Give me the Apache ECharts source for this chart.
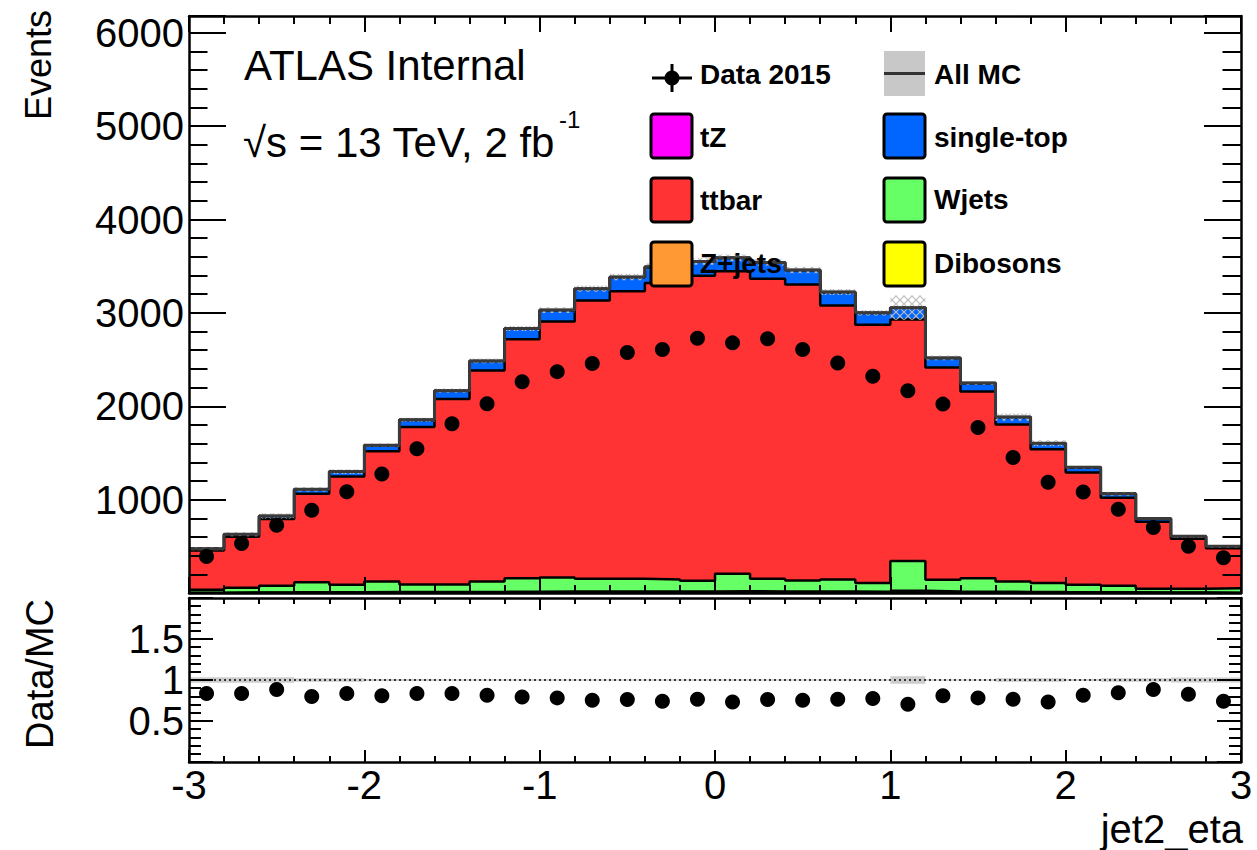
<!DOCTYPE html>
<html lang="en">
<head>
<meta charset="UTF-8">
<title>jet2_eta</title>
<style>
    html, body { margin: 0; padding: 0; background: #fff; }
    #chart { width: 1257px; height: 850px; }
</style>
</head>
<body>
<div id="chart"></div>
<script src="https://cdn.jsdelivr.net/npm/echarts@6/dist/echarts.min.js"></script>
<script>
// bin edges / centres of jet2_eta (30 bins, width 0.2)
var binEdges = [-3, -2.8, -2.6, -2.4, -2.2, -2, -1.8, -1.6, -1.4, -1.2, -1, -0.8, -0.6, -0.4, -0.2, 0,
    0.2, 0.4, 0.6, 0.8, 1, 1.2, 1.4, 1.6, 1.8, 2, 2.2, 2.4, 2.6, 2.8, 3];
var binCenters = [-2.9, -2.7, -2.5, -2.3, -2.1, -1.9, -1.7, -1.5, -1.3, -1.1, -0.9, -0.7, -0.5, -0.3, -0.1,
    0.1, 0.3, 0.5, 0.7, 0.9, 1.1, 1.3, 1.5, 1.7, 1.9, 2.1, 2.3, 2.5, 2.7, 2.9];

// MC stack, bottom to top
var dibosons = [1, 2, 2, 3, 3, 3, 4, 4, 4, 5, 5, 5, 5, 5, 5, 5, 5, 5, 5, 5, 5, 4, 4, 4, 3, 3, 3, 2, 2, 1];
var zjets = [3, 4, 5, 6, 6, 7, 7, 8, 8, 9, 10, 10, 10, 10, 10, 15, 12, 10, 10, 9, 18, 12, 9, 8, 7, 6, 5, 4, 4, 3];
var wjets = [30, 50, 70, 107, 79, 114, 80, 79, 112, 145, 152, 137, 137, 130, 116, 186, 135, 119, 130, 92,
    319, 126, 146, 112, 96, 79, 69, 39, 39, 48];
var ttbar = [422, 547, 716, 948, 1159, 1395, 1687, 1986, 2260, 2560, 2741, 2981, 3080, 3175, 3267, 3241,
    3213, 3169, 2934, 2768, 2587, 2274, 1998, 1682, 1433, 1203, 943, 719, 537, 427];
var singleTop = [18, 25, 32, 45, 52, 62, 75, 88, 100, 112, 120, 125, 150, 170, 150, 140, 172, 154, 143, 126,
    125, 100, 90, 76, 64, 54, 42, 32, 24, 20];
var tZ = [1, 1, 1, 1, 1, 2, 2, 2, 2, 2, 2, 2, 3, 3, 3, 3, 3, 3, 2, 2, 2, 2, 2, 2, 1, 1, 1, 1, 1, 1];

var mcTotal = [475, 629, 826, 1110, 1300, 1583, 1855, 2167, 2486, 2833, 3030, 3260, 3385, 3493, 3551, 3590,
    3540, 3460, 3224, 3002, 3056, 2518, 2249, 1884, 1604, 1346, 1063, 797, 607, 500];
var mcErr = [17, 22, 29, 22, 26, 19, 22, 22, 25, 28, 30, 33, 34, 35, 36, 36, 35, 35, 32, 30, 130, 25, 22, 38,
    32, 16, 21, 16, 18, 15];
var data2015 = [392, 529, 726, 887, 1084, 1274, 1546, 1812, 2027, 2263, 2371, 2457, 2575, 2608, 2729, 2679,
    2722, 2608, 2464, 2321, 2167, 2023, 1772, 1450, 1185, 1081, 898, 701, 500, 378];

// lower panel
var ratio = [0.836, 0.836, 0.885, 0.80, 0.836, 0.807, 0.836, 0.836, 0.815, 0.794, 0.782, 0.753, 0.761, 0.741,
    0.765, 0.733, 0.761, 0.753, 0.765, 0.774, 0.704, 0.807, 0.782, 0.765, 0.733, 0.815, 0.844, 0.885, 0.827, 0.741];
var ratioErr = [0.035, 0.035, 0.035, 0.02, 0.02, 0.012, 0.012, 0.01, 0.01, 0.01, 0.01, 0.01, 0.01, 0.01, 0.01,
    0.01, 0.01, 0.01, 0.01, 0.01, 0.045, 0.01, 0.01, 0.02, 0.02, 0.012, 0.02, 0.02, 0.03, 0.03];

var FONT = '"Liberation Sans", Arial, Helvetica, sans-serif';

// hatch pattern for the MC uncertainty
var hc = document.createElement('canvas');
hc.width = 8; hc.height = 8;
var hctx = hc.getContext('2d');
hctx.strokeStyle = '#bdbdbd';
hctx.lineWidth = 1.2;
hctx.beginPath();
hctx.moveTo(0, 0); hctx.lineTo(8, 8);
hctx.moveTo(8, 0); hctx.lineTo(0, 8);
hctx.stroke();
var hatch = {image: hc.toDataURL(), repeat: 'repeat'};

function stepData(vals) {
    var d = [];
    for (var i = 0; i < vals.length; i++) d.push([binEdges[i], vals[i]]);
    d.push([binEdges[vals.length], vals[vals.length - 1]]);
    return d;
}

// running sum of the stack (each layer is drawn from 0 up to its cumulative top)
var layers = [
    {name: 'Dibosons', vals: dibosons, color: '#ffff00'},
    {name: 'Z+jets', vals: zjets, color: '#ff9933'},
    {name: 'Wjets', vals: wjets, color: '#66ff66'},
    {name: 'ttbar', vals: ttbar, color: '#ff3333'},
    {name: 'single-top', vals: singleTop, color: '#0066ff'},
    {name: 'tZ', vals: tZ, color: '#ff00ff'}
];
var running = binCenters.map(function () { return 0; });
var stackSeries = [];
layers.forEach(function (l, k) {
    running = running.map(function (s, i) { return s + l.vals[i]; });
    stackSeries.push({
        name: l.name, type: 'line', xAxisIndex: 0, yAxisIndex: 0,
        step: 'end', symbol: 'none', silent: true,
        data: stepData(running),
        lineStyle: {color: '#000', width: 2.5},
        areaStyle: {color: l.color, opacity: 1},
        z: 8 - k
    });
});

function bandItem(params, api) {
    var p1 = api.coord([api.value(0), api.value(2) + api.value(3)]);
    var p2 = api.coord([api.value(1), api.value(2) - api.value(3)]);
    return {
        type: 'rect',
        shape: {x: p1[0], y: p1[1], width: p2[0] - p1[0], height: p2[1] - p1[1]},
        style: api.style()
    };
}

function xAx(grid, pos, labels, len) {
    return {
        type: 'value', gridIndex: grid, position: pos, min: -3, max: 3, interval: 1, z: 10,
        axisLine: {onZero: false, lineStyle: {color: '#000', width: 2.5}},
        axisTick: {inside: true, length: len, lineStyle: {color: '#000', width: 2}},
        minorTick: {show: true, splitNumber: 5, length: len / 2, lineStyle: {color: '#000', width: 2}},
        splitLine: {show: false},
        axisLabel: {show: labels, color: '#000', fontSize: 40, lineHeight: 34, fontFamily: FONT, margin: 6}
    };
}

function yAx(grid, pos, labels, min, max, step, len) {
    return {
        type: 'value', gridIndex: grid, position: pos, min: min, max: max, interval: step, z: 10,
        axisLine: {onZero: false, lineStyle: {color: '#000', width: 2.5}},
        axisTick: {inside: true, length: len, lineStyle: {color: '#000', width: 2}},
        minorTick: {show: true, splitNumber: 5, length: len / 2, lineStyle: {color: '#000', width: 2}},
        splitLine: {show: false},
        axisLabel: {
            show: labels, color: '#000', fontSize: 40, fontFamily: FONT, margin: 5,
            showMinLabel: false, showMaxLabel: false,
            formatter: function (v) { return String(v); }
        }
    };
}

var bandData = [], ratioBand = [], dataPts = [], ratioPts = [];
for (var i = 0; i < binCenters.length; i++) {
    bandData.push([binEdges[i], binEdges[i + 1], mcTotal[i], mcErr[i]]);
    ratioBand.push([binEdges[i], binEdges[i + 1], 1, ratioErr[i]]);
    dataPts.push([binCenters[i], data2015[i]]);
    ratioPts.push([binCenters[i], ratio[i]]);
}

// legend drawn by hand, ROOT style
function legBox(x, y, color) {
    return {type: 'rect', z: 100, shape: {x: x, y: y, width: 41, height: 44, r: 3},
        style: {fill: color, stroke: '#000', lineWidth: 3}};
}
function legText(x, y, t) {
    return {type: 'text', z: 100, style: {x: x, y: y, text: t, fill: '#000',
        font: 'bold 28px ' + FONT, textAlign: 'left', textVerticalAlign: 'middle'}};
}

var chart = echarts.init(document.getElementById('chart'), null, {renderer: 'svg'});
chart.setOption({
    animation: false,
    backgroundColor: '#fff',
    grid: [
        {left: 189, right: 16, top: 16, height: 577},
        {left: 189, right: 16, top: 598, height: 164}
    ],
    xAxis: [
        xAx(0, 'bottom', false, 16), xAx(0, 'top', false, 16),
        xAx(1, 'bottom', true, 12), xAx(1, 'top', false, 12)
    ],
    yAxis: [
        yAx(0, 'left', true, 0, 6180, 1000, 37), yAx(0, 'right', false, 0, 6180, 1000, 37),
        yAx(1, 'left', true, 0, 2, 0.5, 24), yAx(1, 'right', false, 0, 2, 0.5, 24)
    ],
    series: stackSeries.concat([
        {
            name: 'MC unc', type: 'custom', xAxisIndex: 0, yAxisIndex: 0, silent: true, z: 9,
            itemStyle: {color: hatch},
            renderItem: bandItem, data: bandData
        },
        {
            name: 'All MC', type: 'line', xAxisIndex: 0, yAxisIndex: 0, step: 'end', symbol: 'none',
            silent: true, z: 9, data: stepData(mcTotal),
            lineStyle: {color: '#3a3a3a', width: 3}
        },
        {
            name: 'Data 2015', type: 'scatter', xAxisIndex: 0, yAxisIndex: 0, z: 12, silent: true,
            symbolSize: 15, itemStyle: {color: '#000', opacity: 1}, data: dataPts
        },
        {
            name: 'ratio unc', type: 'custom', xAxisIndex: 2, yAxisIndex: 2, silent: true, z: 3,
            itemStyle: {color: '#cccccc'},
            renderItem: bandItem, data: ratioBand
        },
        {
            name: 'unity', type: 'line', xAxisIndex: 2, yAxisIndex: 2, symbol: 'none', silent: true, z: 4,
            data: [[-3, 1], [3, 1]],
            lineStyle: {color: '#000', width: 1.5, type: [2, 3]}
        },
        {
            name: 'Data/MC', type: 'scatter', xAxisIndex: 2, yAxisIndex: 2, z: 12, silent: true,
            symbolSize: 15, itemStyle: {color: '#000', opacity: 1}, data: ratioPts
        }
    ]),
    graphic: [
        {type: 'text', z: 100, style: {x: 244, y: 65, text: 'ATLAS Internal', fill: '#000',
            font: '42px ' + FONT, textVerticalAlign: 'middle'}},
        {type: 'text', z: 100, style: {x: 243, y: 142, text: '\u221As = 13 TeV, 2 fb', fill: '#000',
            font: '42px ' + FONT, textVerticalAlign: 'middle'}},
        {type: 'text', z: 100, style: {x: 559, y: 119, text: '-1', fill: '#000',
            font: '24px ' + FONT, textVerticalAlign: 'middle'}},

        {type: 'line', z: 100, shape: {x1: 652, y1: 78, x2: 692, y2: 78}, style: {stroke: '#000', lineWidth: 3}},
        {type: 'line', z: 100, shape: {x1: 672, y1: 64, x2: 672, y2: 92}, style: {stroke: '#000', lineWidth: 3}},
        {type: 'circle', z: 100, shape: {cx: 672, cy: 78, r: 7.5}, style: {fill: '#000'}},
        legText(700, 74, 'Data 2015'),
        {type: 'rect', z: 100, shape: {x: 884, y: 51, width: 41, height: 45}, style: {fill: '#c8c8c8'}},
        {type: 'line', z: 100, shape: {x1: 884, y1: 73.5, x2: 925, y2: 73.5}, style: {stroke: '#333', lineWidth: 3}},
        legText(934, 74, 'All MC'),

        legBox(651, 114, '#ff00ff'), legText(700, 137, 'tZ'),
        legBox(884, 114, '#0066ff'), legText(934, 137, 'single-top'),
        legBox(651, 178, '#ff3333'), legText(700, 200, 'ttbar'),
        legBox(884, 178, '#66ff66'), legText(934, 199, 'Wjets'),
        legBox(651, 242, '#ff9933'), legText(700, 263, 'Z+jets'),
        legBox(884, 242, '#ffff00'), legText(934, 263, 'Dibosons'),

        {type: 'text', z: 100, x: 38, y: 10, rotation: Math.PI / 2,
            style: {x: 0, y: 0, text: 'Events', fill: '#000', font: '36px ' + FONT,
                textAlign: 'right', textVerticalAlign: 'middle'}},
        {type: 'text', z: 100, x: 40, y: 599, rotation: Math.PI / 2,
            style: {x: 0, y: 0, text: 'Data/MC', fill: '#000', font: '38px ' + FONT,
                textAlign: 'right', textVerticalAlign: 'middle'}},
        {type: 'text', z: 100, style: {x: 1243, y: 829, text: 'jet2_eta', fill: '#000', font: '40px ' + FONT,
            lineHeight: 34, textAlign: 'right', textVerticalAlign: 'middle'}}
    ]
});
</script>
</body>
</html>
